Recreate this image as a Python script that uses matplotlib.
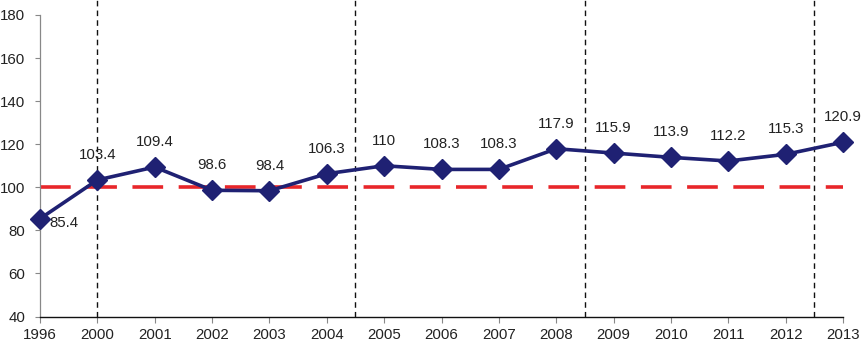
import matplotlib
matplotlib.use("Agg")
import matplotlib.pyplot as plt
from matplotlib.transforms import blended_transform_factory

years = ["1996", "2000", "2001", "2002", "2003", "2004", "2005", "2006",
         "2007", "2008", "2009", "2010", "2011", "2012", "2013"]
values = [85.4, 103.4, 109.4, 98.6, 98.4, 106.3, 110, 108.3, 108.3,
          117.9, 115.9, 113.9, 112.2, 115.3, 120.9]
labels = ["85.4", "103.4", "109.4", "98.6", "98.4", "106.3", "110", "108.3",
          "108.3", "117.9", "115.9", "113.9", "112.2", "115.3", "120.9"]
reference_level = 100
separators = [1, 5.5, 9.5, 13.5]
yticks = [40, 60, 80, 100, 120, 140, 160, 180]

plt.rcParams['font.family'] = ['Liberation Sans', 'DejaVu Sans']

fig = plt.figure(figsize=(8.62, 3.43), dpi=100)
ax = fig.add_axes([40/862, 1-316.5/343, (843-40)/862, (316.5-15)/343])

x = list(range(len(years)))
navy = '#1f2173'
red = '#e8262a'

ax.plot([x[0], x[-1]], [reference_level]*2, color=red, lw=2.6,
        dashes=(8.5, 4.3), zorder=2, solid_capstyle='butt', dash_capstyle='butt')

trans = blended_transform_factory(ax.transData, ax.transAxes)
for s in separators:
    ax.plot([s, s], [0, 1.06], transform=trans, color='#111111', lw=1.0,
            dashes=(4, 3), clip_on=False, zorder=3)

ax.plot(x, values, color=navy, lw=2.6, marker='D', markersize=10,
        markerfacecolor=navy, markeredgecolor=navy, zorder=4, clip_on=False)

for i, (v, t) in enumerate(zip(values, labels)):
    if i == 0:
        ax.annotate(t, (x[i], v), xytext=(7, -3), textcoords='offset points',
                    ha='left', va='center', fontsize=10.8, color='#222222')
    else:
        ax.annotate(t, (x[i], v), xytext=(0, 18), textcoords='offset points',
                    ha='center', va='center', fontsize=10.8, color='#222222')

ax.set_xlim(0, len(years)-1)
ax.set_ylim(40, 180)
ax.set_xticks(x)
ax.set_xticklabels(years)
ax.set_yticks(yticks)
ax.tick_params(axis='both', labelsize=10.8, colors='#222222')
ax.tick_params(axis='y', length=3.5, width=0.8, color='#888888', pad=7)
ax.tick_params(axis='x', length=4, width=0.8, color='#888888', pad=4)
for side in ['top', 'right']:
    ax.spines[side].set_visible(False)
ax.spines['left'].set_color('#888888')
ax.spines['left'].set_linewidth(0.9)
ax.spines['bottom'].set_color('#111111')
ax.spines['bottom'].set_linewidth(1.0)

fig.savefig("out.png", dpi=100)
